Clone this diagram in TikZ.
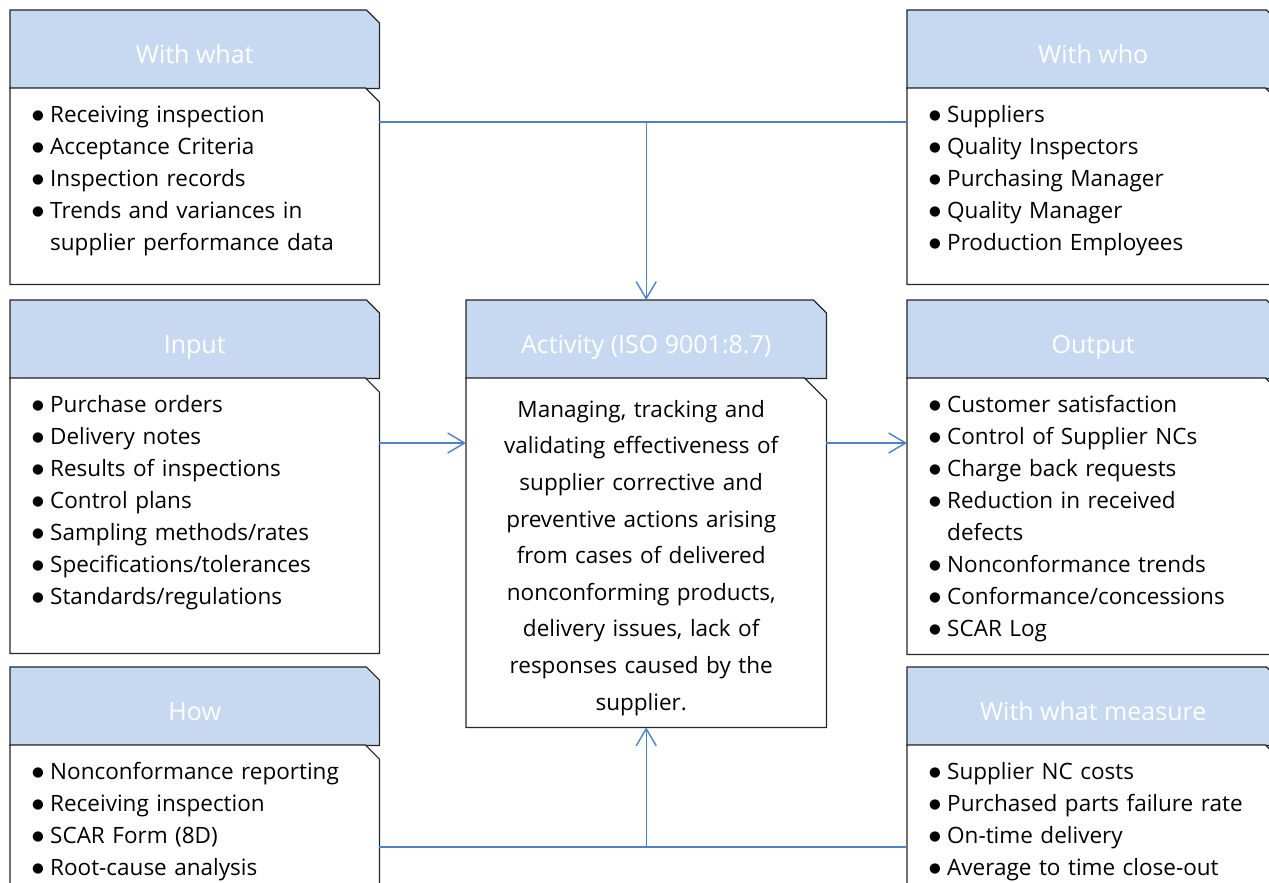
\documentclass[tikz,border=0pt]{standalone}
\usepackage{fontspec}
\setmainfont{Open Sans}
\newfontfamily\dotfont{DejaVu Sans}
\usetikzlibrary{calc,positioning,arrows.meta}
\definecolor{headblue}{RGB}{199,217,240}
\definecolor{linkblue}{RGB}{79,129,199}
\definecolor{edgegray}{RGB}{38,38,38}
\pgfdeclarelayer{back}
\pgfsetlayers{back,main}
\setlength{\parindent}{0pt}
\newcommand\bitem[1]{\par\hangindent=20pt\relax\hangafter=1\relax\strut
  \makebox[20pt][l]{\hspace{2pt}\raisebox{3.4pt}{\fontsize{13.5}{13.5}\dotfont ●}}#1\par}
\newcommand\cutbox[3]{\draw[#3] (#1.south west) -- (#1.north west)
  -- ([xshift=-#2pt]#1.north east) -- ([yshift=-#2pt]#1.north east)
  -- (#1.south east) -- cycle;}

\begin{document}
\begin{tikzpicture}[x=1pt,y=-1pt,
  head/.style={anchor=north west,inner sep=0pt,minimum height=78pt,
    text=white,text height=28pt,text depth=0pt,font=\fontsize{25}{30}\selectfont},
  body/.style={anchor=north west,inner sep=0pt},
  list/.style={anchor=north west,inner sep=0pt,text width=330pt,align=left,
    font=\fontsize{22.5}{32}\selectfont},
  headline/.style={draw=edgegray,line width=1.2pt,fill=headblue},
  bodyline/.style={draw=edgegray,line width=1.2pt,fill=white},
  link/.style={draw=linkblue,line width=1.4pt},
  tip/.style={-{Straight Barb[length=17pt,width=20pt]}}
]
\useasboundingbox (0,0) rectangle (1269,883);
\clip (0,0) rectangle (1269,883);

% left column
\node[head,minimum width=369pt] (whatH) at (10,10) {With what};
\node[body,minimum width=369pt,minimum height=196pt] (whatB) at (10,88) {};
\node[head,minimum width=369pt] (inH) at (10,300) {Input};
\node[body,minimum width=369pt,minimum height=275pt] (inB) at (10,378) {};
\node[head,minimum width=369pt] (howH) at (10,667) {How};
\node[body,minimum width=369pt,minimum height=180pt] (howB) at (10,745) {};

% centre
\node[head,minimum width=360pt] (actH) at (466,300) {Activity (ISO 9001:8.7)};
\node[body,minimum width=360pt,minimum height=349pt] (actB) at (466,378) {};

% right column
\node[head,minimum width=372pt] (whoH) at (907,10) {With who};
\node[body,minimum width=372pt,minimum height=196pt] (whoB) at (907,88) {};
\node[head,minimum width=372pt] (outH) at (907,300) {Output};
\node[body,minimum width=372pt,minimum height=276pt] (outB) at (907,378) {};
\node[head,minimum width=372pt] (measH) at (907,667) {With what measure};
\node[body,minimum width=372pt,minimum height=180pt] (measB) at (907,745) {};

% texts
\node[list] (whatL) at ($(whatB.north west)+(20,2.6)$) {\bitem{Receiving inspection}\bitem{Acceptance Criteria}\bitem{Inspection records}\bitem{Trends and variances in\newline supplier performance data}};
\node[list] (inL) at ($(inB.north west)+(20,2.6)$) {\bitem{Purchase orders}\bitem{Delivery notes}\bitem{Results of inspections}\bitem{Control plans}\bitem{Sampling methods/rates}\bitem{Specifications/tolerances}\bitem{Standards/regulations}};
\node[list] (howL) at ($(howB.north west)+(20,2.6)$) {\bitem{Nonconformance reporting}\bitem{Receiving inspection}\bitem{SCAR Form (8D)}\bitem{Root-cause analysis}};
\node[list] (whoL) at ($(whoB.north west)+(20,2.6)$) {\bitem{Suppliers}\bitem{Quality Inspectors}\bitem{Purchasing Manager}\bitem{Quality Manager}\bitem{Production Employees}};
\node[list] (outL) at ($(outB.north west)+(20,2.6)$) {\bitem{Customer satisfaction}\bitem{Control of Supplier NCs}\bitem{Charge back requests}\bitem{Reduction in received\newline defects}\bitem{Nonconformance trends}\bitem{Conformance/concessions}\bitem{SCAR Log}};
\node[list] (measL) at ($(measB.north west)+(20,2.6)$) {\bitem{Supplier NC costs}\bitem{Purchased parts failure rate}\bitem{On-time delivery}\bitem{Average to time close-out}};
\node[anchor=north,inner sep=0pt,text width=340pt,align=center,
  font=\fontsize{22.5}{36.6}\selectfont] (actL) at ($(actB.north)+(-5,13.4)$)
  {\strut Managing, tracking and\\ validating effectiveness of\\ supplier corrective and\\ preventive actions arising\\ from cases of delivered\\ nonconforming products,\\ delivery issues, lack of\\ responses caused by the\\ supplier.};

% connectors
\coordinate (topL) at ($(whatB.north east)+(0,34)$);
\coordinate (topJ) at (actH.north |- topL);
\draw[link] (topL) -- (whoB.west |- topL);
\draw[link,tip] (topJ) -- (actH.north);
\coordinate (botL) at ($(howB.north east)+(0,102)$);
\coordinate (botJ) at (actB.south |- botL);
\draw[link] (botL) -- (measB.west |- botL);
\draw[link,tip] (botJ) -- (actB.south);
\coordinate (inA) at ($(inB.north east)+(0,65)$);
\draw[link,tip] (inA) -- (actB.west |- inA);
\coordinate (outA) at ($(actB.north east)+(0,65)$);
\draw[link,tip] (outA) -- (outB.west |- outA);

% box outlines
\begin{pgfonlayer}{back}
\fill[white] (0,0) rectangle (1269,883);
\clip (0,0) rectangle (1269,883);
\foreach \n in {whatH,inH,howH,actH,whoH,outH,measH}
  {\cutbox{\n}{13}{headline}}
\foreach \n in {whatB,inB,howB,whoB,outB,measB}
  {\cutbox{\n}{14}{bodyline}}
\cutbox{actB}{22}{bodyline}
\end{pgfonlayer}
\end{tikzpicture}
\end{document}
